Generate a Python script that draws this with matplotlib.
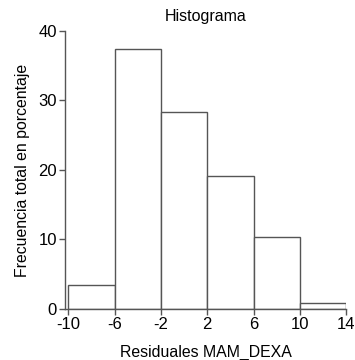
import matplotlib
matplotlib.use("Agg")
import matplotlib.pyplot as plt

bin_edges = [-10, -6, -2, 2, 6, 10, 14]
percentages = [3.4, 37.4, 28.4, 19.1, 10.3, 0.9]
xticks = [-10, -6, -2, 2, 6, 10, 14]
yticks = [0, 10, 20, 30, 40]

plt.rcParams['font.family'] = ['Liberation Sans', 'DejaVu Sans']

fig = plt.figure(figsize=(3.55, 3.6), dpi=100)
ax = fig.add_axes([0.184, 0.1417, 0.791, 0.7722])

lefts = bin_edges[:-1]
widths = [bin_edges[i + 1] - bin_edges[i] for i in range(len(lefts))]
ax.bar(lefts, percentages, width=widths, align='edge', facecolor='white',
       edgecolor='#555555', linewidth=1.0)

ax.set_xlim(-10.26, 14)
ax.set_ylim(0, 40)
ax.set_xticks(xticks)
ax.set_xticklabels([str(v) for v in xticks])
ax.set_yticks(yticks)
ax.spines['top'].set_visible(False)
ax.spines['right'].set_visible(False)
for s in ['left', 'bottom']:
    ax.spines[s].set_color('#555555')
    ax.spines[s].set_linewidth(1.0)
ax.tick_params(axis='both', colors='#555555', labelcolor='black', labelsize=12,
               length=4, width=1.0, pad=2)

ax.set_title('Histograma', fontsize=11.5, pad=7)
ax.set_xlabel('Residuales MAM_DEXA', fontsize=11.4, labelpad=9)
ax.set_ylabel('Frecuencia total en porcentaje', fontsize=11.4, labelpad=6)

fig.savefig('out.png', dpi=100)
